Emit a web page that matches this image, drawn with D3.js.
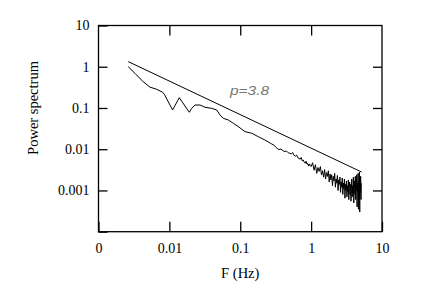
<!DOCTYPE html>
<html>
<head>
<meta charset="utf-8">
<script src="https://cdn.jsdelivr.net/npm/d3@7"></script>
<style>
  body { margin: 0; background: #fff; }
  svg { display: block; }
  .tick text { font-family: "Liberation Serif", "Times New Roman", serif; font-size: 14px; }
</style>
</head>
<body>
<svg id="mainsvg" width="436" height="290"></svg>
<script>
// tick values
let xTicks = [0.001, 0.01, 0.1, 1, 10];
let xTickLabels = ["0", "0.01", "0.1", "1", "10"];
let yTicks = [0.0001, 0.001, 0.01, 0.1, 1, 10];
let yTickLabels = ["", "0.001", "0.01", "0.1", "1", "10"];

// fitted power law line
let fitFreq = [0.00263, 5.15];
let fitPow = [1.33, 0.0028];

// measured spectrum, low frequency part
let lowFreq = [0.00263, 0.00327, 0.00429, 0.00533, 0.00663, 0.00805, 0.00848, 0.0111, 0.0138, 0.0191,
    0.0207, 0.023, 0.0271, 0.0318, 0.0396, 0.0465, 0.0518, 0.0577, 0.0678, 0.0798,
    0.094, 0.117, 0.145, 0.18, 0.223, 0.278];
let lowPow = [1.0, 0.69, 0.43, 0.32, 0.284, 0.24, 0.215, 0.0895, 0.178, 0.0787,
    0.0984, 0.118, 0.118, 0.104, 0.098, 0.0895, 0.0676, 0.0562, 0.0512, 0.0426,
    0.0352, 0.0266, 0.0244, 0.0201, 0.0167, 0.0134];

// mid part
let midFreq = [0.3, 0.325, 0.35, 0.375, 0.4, 0.425, 0.45, 0.475, 0.5, 0.525, 0.55, 0.575, 0.6, 0.625,
    0.65, 0.675, 0.7, 0.725, 0.75, 0.775, 0.8, 0.825, 0.85, 0.875, 0.9, 0.925, 0.95, 0.975];
let midPow = [0.0125, 0.0108, 0.0098, 0.0101, 0.0092, 0.0088, 0.0090, 0.0082, 0.0080, 0.0077, 0.0083, 0.0071, 0.0068, 0.0072,
    0.0062, 0.0060, 0.0057, 0.0063, 0.0052, 0.0055, 0.0048, 0.0046, 0.0051, 0.0043, 0.0045, 0.0039, 0.0044, 0.0040];

// noisy tail
let tailFreq = [1.00, 1.05, 1.10, 1.15, 1.20, 1.25, 1.30, 1.35, 1.40, 1.45, 1.50, 1.55, 1.60, 1.65, 1.70, 1.75, 1.80, 1.85, 1.90, 1.95,
    2.00, 2.05, 2.10, 2.15, 2.20, 2.25, 2.30, 2.35, 2.40, 2.45, 2.50, 2.55, 2.60, 2.65, 2.70, 2.75, 2.80, 2.85, 2.90, 2.95,
    3.00, 3.05, 3.10, 3.15, 3.20, 3.25, 3.30, 3.35, 3.40, 3.45, 3.50, 3.55, 3.60, 3.65, 3.70, 3.75, 3.80, 3.85, 3.90, 3.95,
    4.00, 4.05, 4.10, 4.15, 4.20, 4.25, 4.30, 4.35, 4.40, 4.45, 4.50, 4.55, 4.60, 4.65, 4.70, 4.75, 4.80, 4.85, 4.90, 4.95,
    5.00, 5.05, 5.10];
let tailPow = [0.0038, 0.0047, 0.0031, 0.0042, 0.0026, 0.0036, 0.0029, 0.0038, 0.0024, 0.0030, 0.0021, 0.0032, 0.0019, 0.0027, 0.0022, 0.0030, 0.0016, 0.0025, 0.0018, 0.0024,
    0.0013, 0.0022, 0.0017, 0.0026, 0.0012, 0.0019, 0.0015, 0.0023, 0.0010, 0.0018, 0.0014, 0.0021, 0.0009, 0.0016, 0.0012, 0.0020, 0.0008, 0.0015, 0.0011, 0.0019,
    0.00065, 0.0014, 0.0010, 0.0017, 0.0007, 0.0013, 0.0009, 0.0018, 0.0006, 0.0012, 0.0016, 0.0008, 0.0014, 0.00055, 0.0011, 0.0019, 0.0007, 0.0013, 0.0009, 0.0021,
    0.0005, 0.0012, 0.0017, 0.0008, 0.0022, 0.0006, 0.0013, 0.0010, 0.0024, 0.0004, 0.0015, 0.0009, 0.0026, 0.00035, 0.0018, 0.0007, 0.0028, 0.0003, 0.0019, 0.0009,
    0.0022, 0.0006, 0.0015];

let mLeft = 98.5, mTop = 25.5, mRight = 382, mBottom = 231.7;
let serif = "'Liberation Serif', 'Times New Roman', serif";

let svg = d3.select("#mainsvg");

let x = d3.scaleLog().domain([0.001, 10]).range([mLeft, mRight]);
let y = d3.scaleLog().domain([0.0001, 10]).range([mBottom, mTop]);

// axes, ticks pointing inward
let xAxis = svg.append("g")
    .attr("transform", "translate(0," + mBottom + ")")
    .call(d3.axisBottom(x).tickValues(xTicks)
        .tickFormat((d, i) => xTickLabels[i])
        .tickSizeInner(-10).tickSizeOuter(0).tickPadding(11));
let xAxisTop = svg.append("g")
    .attr("transform", "translate(0," + mTop + ")")
    .call(d3.axisTop(x).tickValues(xTicks.slice(1, -1))
        .tickFormat("").tickSizeInner(-10).tickSizeOuter(0));
let yAxis = svg.append("g")
    .attr("transform", "translate(" + mLeft + ",0)")
    .call(d3.axisLeft(y).tickValues(yTicks)
        .tickFormat((d, i) => yTickLabels[i])
        .tickSizeInner(-9).tickSizeOuter(0).tickPadding(9));
let yAxisRight = svg.append("g")
    .attr("transform", "translate(" + mRight + ",0)")
    .call(d3.axisRight(y).tickValues(yTicks.slice(1, -1))
        .tickFormat("").tickSizeInner(-9).tickSizeOuter(0));

for (let g of [xAxis, xAxisTop, yAxis, yAxisRight]) {
    g.attr("font-family", serif).attr("font-size", 14);
    g.select(".domain").remove();
    g.selectAll(".tick line").attr("stroke", "#000").attr("stroke-width", 1.3);
    g.selectAll(".tick text").attr("fill", "#000");
}

// frame
svg.append("rect")
    .attr("x", mLeft).attr("y", mTop)
    .attr("width", mRight - mLeft).attr("height", mBottom - mTop)
    .attr("fill", "none").attr("stroke", "#000").attr("stroke-width", 1.3);

let line = d3.line().x(d => x(d[0])).y(d => y(d[1]));

let fitData = fitFreq.map((f, i) => [f, fitPow[i]]);
let specData = lowFreq.map((f, i) => [f, lowPow[i]])
    .concat(midFreq.map((f, i) => [f, midPow[i]]))
    .concat(tailFreq.map((f, i) => [f, tailPow[i]]));

svg.append("path")
    .datum(fitData)
    .attr("d", line)
    .attr("fill", "none").attr("stroke", "#000").attr("stroke-width", 1);

svg.append("path")
    .datum(specData)
    .attr("d", line)
    .attr("fill", "none").attr("stroke", "#000").attr("stroke-width", 1)
    .attr("stroke-linejoin", "round");

// annotation
svg.append("text")
    .attr("x", 230).attr("y", 95)
    .attr("textLength", 39).attr("lengthAdjust", "spacingAndGlyphs")
    .attr("font-family", "'Liberation Sans', Arial, sans-serif")
    .attr("font-style", "italic")
    .attr("font-size", 12)
    .attr("fill", "#777")
    .text("p=3.8");

// axis titles
svg.append("text")
    .attr("x", (mLeft + mRight) / 2).attr("y", 278)
    .attr("text-anchor", "middle")
    .attr("font-family", serif).attr("font-size", 14.5)
    .text("F (Hz)");

svg.append("text")
    .attr("transform", "translate(38,108) rotate(-90)")
    .attr("text-anchor", "middle")
    .attr("font-family", serif).attr("font-size", 14.5)
    .text("Power spectrum");
</script>
</body>
</html>
